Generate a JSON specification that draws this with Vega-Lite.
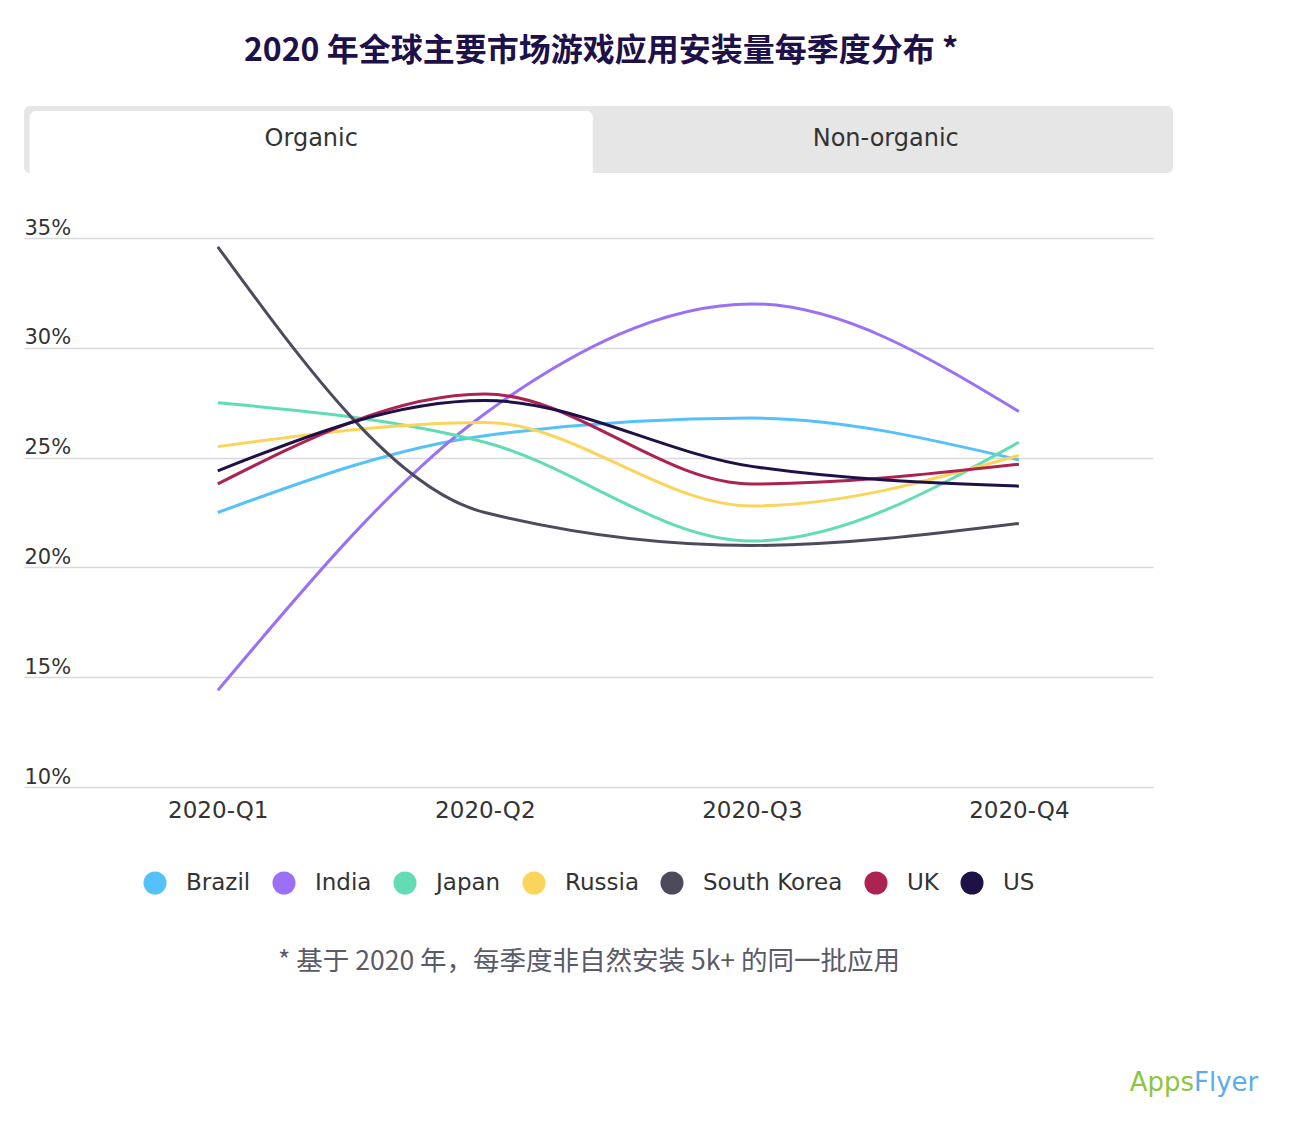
{
  "$schema": "https://vega.github.io/schema/vega-lite/v6.json",
  "background": "white",
  "padding": {"left": 24, "top": 35, "right": 10, "bottom": 10},
  "config": {
    "view": {"stroke": null},
    "font": "DejaVu Sans"
  },
  "title": {
    "text": "2020 年全球主要市场游戏应用安装量每季度分布 *",
    "font": "Noto Sans CJK SC",
    "fontSize": 32,
    "fontWeight": "bold",
    "color": "#1e1048",
    "anchor": "middle",
    "dx": -40,
    "offset": 38
  },
  "datasets": {
    "tabs": [
      {"tab": "Organic", "selected": true},
      {"tab": "Non-organic", "selected": false}
    ],
    "installs": [
      {"quarter": "2020-Q1", "country": "Brazil", "share": 22.5},
      {"quarter": "2020-Q2", "country": "Brazil", "share": 26.0},
      {"quarter": "2020-Q3", "country": "Brazil", "share": 26.8},
      {"quarter": "2020-Q4", "country": "Brazil", "share": 24.9},
      {"quarter": "2020-Q1", "country": "India", "share": 14.4},
      {"quarter": "2020-Q2", "country": "India", "share": 27.0},
      {"quarter": "2020-Q3", "country": "India", "share": 32.0},
      {"quarter": "2020-Q4", "country": "India", "share": 27.1},
      {"quarter": "2020-Q1", "country": "Japan", "share": 27.5},
      {"quarter": "2020-Q2", "country": "Japan", "share": 25.7},
      {"quarter": "2020-Q3", "country": "Japan", "share": 21.2},
      {"quarter": "2020-Q4", "country": "Japan", "share": 25.7},
      {"quarter": "2020-Q1", "country": "Russia", "share": 25.5},
      {"quarter": "2020-Q2", "country": "Russia", "share": 26.6},
      {"quarter": "2020-Q3", "country": "Russia", "share": 22.8},
      {"quarter": "2020-Q4", "country": "Russia", "share": 25.1},
      {"quarter": "2020-Q1", "country": "South Korea", "share": 34.6},
      {"quarter": "2020-Q2", "country": "South Korea", "share": 22.5},
      {"quarter": "2020-Q3", "country": "South Korea", "share": 21.0},
      {"quarter": "2020-Q4", "country": "South Korea", "share": 22.0},
      {"quarter": "2020-Q1", "country": "UK", "share": 23.8},
      {"quarter": "2020-Q2", "country": "UK", "share": 27.9},
      {"quarter": "2020-Q3", "country": "UK", "share": 23.8},
      {"quarter": "2020-Q4", "country": "UK", "share": 24.7},
      {"quarter": "2020-Q1", "country": "US", "share": 24.4},
      {"quarter": "2020-Q2", "country": "US", "share": 27.6},
      {"quarter": "2020-Q3", "country": "US", "share": 24.6},
      {"quarter": "2020-Q4", "country": "US", "share": 23.7}
    ]
  },
  "spacing": 44,
  "vconcat": [
    {
      "width": 1149,
      "height": 67,
      "view": {"fill": "#e6e6e6", "cornerRadius": 6, "stroke": null},
      "data": {"name": "tabs"},
      "encoding": {
        "x": {
          "field": "tab",
          "type": "nominal",
          "sort": null,
          "scale": {"domain": ["Organic", "Non-organic"], "paddingInner": 0, "paddingOuter": 0},
          "axis": null
        }
      },
      "layer": [
        {
          "transform": [{"filter": "datum.selected"}],
          "mark": {
            "type": "bar",
            "color": "white",
            "width": {"band": 0.98},
            "yOffset": 5,
            "cornerRadiusTopLeft": 6,
            "cornerRadiusTopRight": 6
          }
        },
        {
          "mark": {"type": "text", "fontSize": 24, "color": "#333333", "dy": -1},
          "encoding": {"text": {"field": "tab"}}
        }
      ]
    },
    {
      "width": 1129,
      "height": 549,
      "data": {"name": "installs"},
      "mark": {"type": "line", "interpolate": "monotone", "strokeWidth": 3},
      "encoding": {
        "x": {
          "field": "quarter",
          "type": "ordinal",
          "scale": {"type": "point", "padding": 0.614, "align": 0.591},
          "axis": {
            "title": "* 基于 2020 年，每季度非自然安装 5k+ 的同一批应用",
            "titleFont": "Noto Sans CJK SC",
            "titleFontSize": 26.5,
            "titleFontWeight": "normal",
            "titleColor": "#5a5a68",
            "titlePadding": 126,
            "labelAngle": 0,
            "labelFontSize": 23,
            "labelColor": "#333333",
            "labelPadding": 12,
            "ticks": false,
            "domain": false,
            "grid": false
          }
        },
        "y": {
          "field": "share",
          "type": "quantitative",
          "scale": {"domain": [10, 35]},
          "axis": {
            "title": null,
            "values": [10, 15, 20, 25, 30, 35],
            "labelExpr": "datum.value + '%'",
            "labelAlign": "left",
            "labelBaseline": "bottom",
            "labelPadding": 0,
            "labelDy": -4,
            "ticks": false,
            "domain": false,
            "grid": true,
            "gridColor": "#d9d9d9",
            "gridWidth": 1.5,
            "labelFontSize": 21,
            "labelColor": "#333333"
          }
        },
        "color": {
          "field": "country",
          "type": "nominal",
          "scale": {
            "domain": ["Brazil", "India", "Japan", "Russia", "South Korea", "UK", "US"],
            "range": ["#55c1fa", "#9b70f6", "#62dcb3", "#fbd55b", "#4d4a5e", "#ac2352", "#1f1048"]
          },
          "legend": {
            "title": null,
            "orient": "none",
            "legendX": 119,
            "legendY": 765,
            "direction": "horizontal",
            "symbolType": "circle",
            "symbolSize": 530,
            "labelFontSize": 23,
            "labelColor": "#333333",
            "labelOffset": 19,
            "columnPadding": 21,
            "encode": {
              "symbols": {
                "update": {
                  "fill": {"scale": "color", "field": "value"},
                  "strokeWidth": {"value": 0},
                  "opacity": {"value": 1}
                }
              }
            }
          }
        }
      }
    },
    {
      "width": 1149,
      "height": 77,
      "data": {"values": [{"brand": "Apps"}, {"brand": "Flyer"}]},
      "encoding": {
        "x": {"datum": 1, "type": "quantitative", "scale": {"domain": [0, 1]}, "axis": null},
        "y": {"datum": 0, "type": "quantitative", "scale": {"domain": [0, 1]}, "axis": null},
        "text": {"field": "brand"}
      },
      "layer": [
        {
          "transform": [{"filter": "datum.brand == 'Apps'"}],
          "mark": {"type": "text", "align": "right", "baseline": "bottom", "fontSize": 26, "color": "#8cc63f", "dx": 21}
        },
        {
          "transform": [{"filter": "datum.brand == 'Flyer'"}],
          "mark": {"type": "text", "align": "left", "baseline": "bottom", "fontSize": 26, "color": "#5aaee8", "dx": 21}
        }
      ]
    }
  ]
}
